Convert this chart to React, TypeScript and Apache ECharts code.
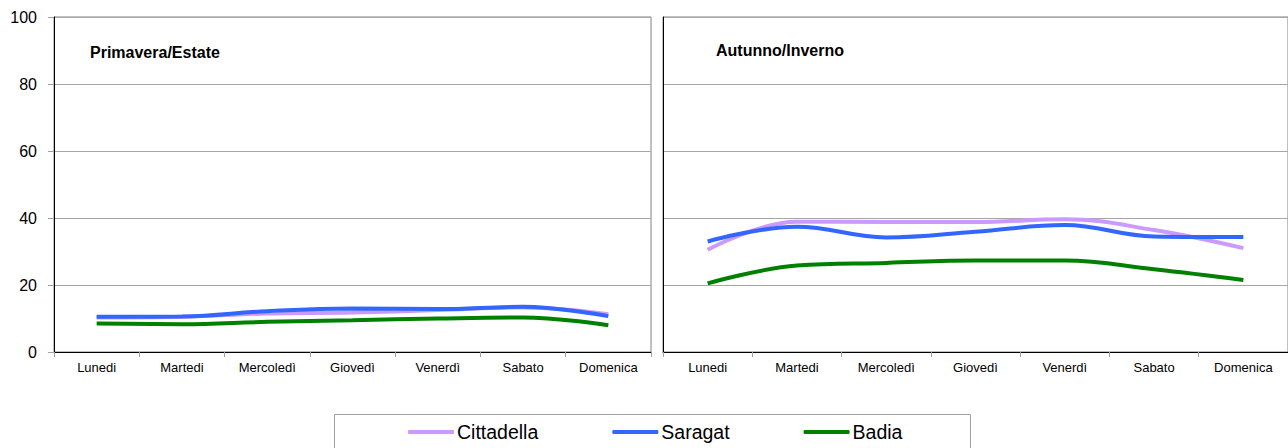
import React, { useEffect, useRef } from "react";
import * as echarts from "echarts";

const categories = ["Lunedi", "Martedi", "Mercoledì", "Giovedì", "Venerdì", "Sabato", "Domenica"];
const seriesNames = ["Cittadella", "Saragat", "Badia"];
const seriesColors = ["#CC99FF", "#3366FF", "#008000"];

// Primavera/Estate
const cittadellaPE = [10.3, 10.5, 11.5, 11.8, 12.5, 13.3, 11.3];
const saragatPE = [10.5, 10.6, 12.2, 13.0, 12.8, 13.5, 10.7];
const badiaPE = [8.5, 8.3, 9.0, 9.5, 10.0, 10.3, 8.0];

// Autunno/Inverno
const cittadellaAI = [30.5, 38.9, 38.8, 38.8, 39.6, 36.4, 31.0];
const saragatAI = [33.0, 37.4, 34.2, 35.9, 37.9, 34.5, 34.3];
const badiaAI = [20.5, 25.8, 26.6, 27.3, 27.3, 24.7, 21.5];

const panelTitles = ["Primavera/Estate", "Autunno/Inverno"];
const yTicks = { min: 0, max: 100, interval: 20 };

const FONT = "'Liberation Sans', Arial, sans-serif";

export default function App() {
  const ref = useRef<HTMLDivElement>(null);

  useEffect(() => {
    if (!ref.current) return;
    const chart = echarts.init(ref.current, null, { renderer: "svg" });

    const panels = [
      [cittadellaPE, saragatPE, badiaPE],
      [cittadellaAI, saragatAI, badiaAI],
    ];

    const grids = [
      { left: 54, top: 17, width: 597, height: 335 },
      { left: 663, top: 17, width: 627, height: 335 },
    ].map((g) => ({
      ...g,
      show: true,
      borderColor: "#808080",
      borderWidth: 1,
      backgroundColor: "transparent",
    }));

    const xAxes = grids.map((_, i) => ({
      type: "category",
      gridIndex: i,
      data: categories,
      boundaryGap: true,
      axisLine: { show: true, lineStyle: { color: "#000", width: 1 } },
      axisTick: { show: true, length: 5, lineStyle: { color: "#A0A0A0" } },
      axisLabel: { color: "#000", fontSize: 13, fontFamily: FONT, margin: 9 },
      splitLine: { show: false },
    }));

    const yAxes = grids.map((_, i) => ({
      type: "value",
      gridIndex: i,
      min: yTicks.min,
      max: yTicks.max,
      interval: yTicks.interval,
      axisLine: { show: true, lineStyle: { color: "#000", width: 1 } },
      axisTick: { show: i === 0, length: 6, lineStyle: { color: "#A0A0A0" } },
      axisLabel: { show: i === 0, color: "#000", fontSize: 16, fontFamily: FONT, margin: 17 },
      splitLine: { show: true, lineStyle: { color: "#A6A6A6", width: 1 } },
    }));

    const series: any[] = [];
    panels.forEach((data, p) => {
      data.forEach((vals, s) => {
        series.push({
          type: "line",
          name: seriesNames[s],
          xAxisIndex: p,
          yAxisIndex: p,
          data: vals,
          smooth: 0.4,
          symbol: "none",
          lineStyle: { color: seriesColors[s], width: 4 },
          itemStyle: { color: seriesColors[s] },
          z: 3 + s,
        });
      });
    });

    chart.setOption({
      animation: false,
      backgroundColor: "#fff",
      grid: grids,
      xAxis: xAxes,
      yAxis: yAxes,
      series,
      legend: {
        data: seriesNames.map((n) => ({ name: n, icon: "roundRect" })),
        left: 408,
        top: 422,
        orient: "horizontal",
        itemWidth: 46,
        itemHeight: 4,
        itemGap: 74,
        padding: 0,
        itemStyle: { borderWidth: 0 },
        lineStyle: { width: 0 },
        textStyle: { color: "#000", fontSize: 19.5, fontFamily: FONT, padding: [0, 0, 0, -2] },
        selectedMode: false,
      },
      graphic: [
        {
          type: "rect",
          z: -1,
          shape: { x: 334.5, y: 414.5, width: 636, height: 50 },
          style: { fill: "#fff", stroke: "#A0A0A0", lineWidth: 1 },
        },
        {
          type: "text",
          x: 90,
          y: 52,
          style: {
            text: panelTitles[0],
            font: `bold 16px ${FONT}`,
            fill: "#000",
            verticalAlign: "middle",
          },
        },
        {
          type: "text",
          x: 716,
          y: 50,
          style: {
            text: panelTitles[1],
            font: `bold 16px ${FONT}`,
            fill: "#000",
            verticalAlign: "middle",
          },
        },
      ],
    });

    return () => chart.dispose();
  }, []);

  return (
    <div
      ref={ref}
      style={{ position: "fixed", left: 0, top: 0, width: 1288, height: 448, background: "#fff" }}
    />
  );
}
